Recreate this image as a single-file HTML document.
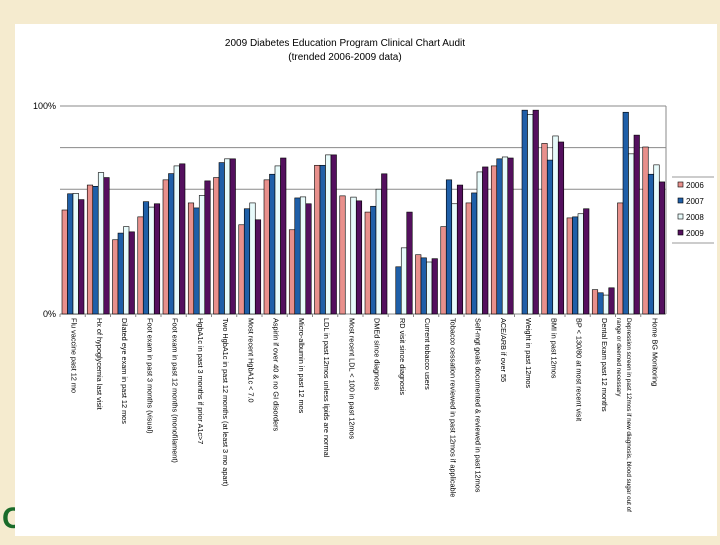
<!DOCTYPE html>
<html><head><meta charset="utf-8"><style>
body{margin:0;width:720px;height:540px;overflow:hidden;background:#f5ebcf;font-family:"Liberation Sans",sans-serif}
</style></head><body>
<svg width="720" height="540">
<rect x="0" y="0" width="720" height="540" fill="#f5ebcf"/>
<text x="2" y="528" font-size="30" font-weight="bold" fill="#1a6b2a">C</text>
<rect x="15" y="24" width="702" height="512" fill="#fff"/>
<text x="345" y="46" font-size="10" text-anchor="middle">2009 Diabetes Education Program Clinical Chart Audit</text>
<text x="345" y="60" font-size="10" text-anchor="middle">(trended 2006-2009 data)</text>
<g id="plot"></g>
<g id="legend"></g>
</svg>
<script>
const categories=["Flu vaccine past 12 mo","Hx of hypoglycemia last visit","Dilated eye exam in past 12 mos","Foot exam in past 3 months (visual)","Foot exam in past 12 months (monofilament)","HgbA1c in past 3 months if prior A1c>7","Two HgbA1c in past 12 months (at least 3 mo apart)","Most recent HgbA1c < 7.0","Aspirin if over 40 & no GI disorders","Micro-albumin in past 12 mos","LDL in past 12mos unless lipids are normal","Most recent LDL < 100 in past 12mos","DMEd since diagnosis","RD visit since diagnosis","Current tobacco users","Tobacco cessation reviewed in past 12mos if applicable","Self-mgt goals documented & reviewed in past 12mos","ACE/ARB if over 55","Weight in past 12mos","BMI in past 12mos","BP < 130/80 at most recent visit","Dental Exam past 12 months","Depression screen in past 12mos if new diagnosis, blood sugar out of|range or deemed necessary","Home BG Monitoring"];
const s2006=[50,62,35.7,46.7,64.5,53.4,65.6,42.9,64.5,40.5,71.5,56.8,49,0,28.5,42,53.4,71.2,0,82,46.2,11.7,53.4,80.3];
const s2007=[57.8,61.4,38.9,54,67.5,51,72.8,50.6,67.2,55.8,71.5,0,51.8,22.7,27,64.5,58.2,74.6,98,74,46.7,10.2,97,67.2];
const s2008=[58,68,42,51.4,71.2,57,74.6,53.4,71.2,56.3,76.5,56.2,60,31.8,25,53,68.3,75.5,96,85.6,48.2,9.1,77,71.7];
const s2009=[55,65.6,39.5,53,72.2,64,74.6,45.3,75,53,76.5,54.4,67.4,49,26.6,62,70.7,75,98,82.7,50.6,12.6,86,63.5];
const seriesNames=["2006","2007","2008","2009"];
const yTicks=[0,60,80,100];
const yLabels={0:"0%",100:"100%"};
const series=[s2006,s2007,s2008,s2009];
const colors=["#e8908c","#1f5fa8","#e8fbfb","#54105e"];
const NS="http://www.w3.org/2000/svg";
const X0=60,X1=666,Y0=314,Y100=106;
const bw=(X1-X0)/categories.length;
const y=v=>Y0-(v/100)*(Y0-Y100);
const x=i=>X0+i*bw;
const plot=document.getElementById('plot');
function mk(t,a,p){const e=document.createElementNS(NS,t);for(const k in a)e.setAttribute(k,a[k]);(p||plot).appendChild(e);return e;}
yTicks.forEach(t=>{
 const l=mk('line',{x1:X0,x2:X1,y1:y(t),y2:y(t),stroke:t===0?'#888':'#8a8a8a','stroke-width':1});
 
 
 if(yLabels[t]!==undefined){const tx=mk('text',{x:X0-4,y:y(t)+3,'font-size':9,'text-anchor':'end'});tx.textContent=yLabels[t];
 
 }
});
const rb=mk('line',{x1:X1,x2:X1,y1:Y100,y2:Y0,stroke:'#8a8a8a'});


const barW=5.5;
categories.forEach((c,i)=>{
 const gx=x(i)+2;
 series.forEach((s,k)=>{
  const v=s[i]; if(!v) return;
  const r=mk('rect',{x:gx+k*barW,y:y(v),width:barW,height:Y0-y(v),fill:colors[k],stroke:'#000','stroke-width':0.6});
  
  
 });
 const tk=mk('line',{x1:x(i),x2:x(i),y1:Y0,y2:Y0+3,stroke:'#888'});
 
 
 const parts=c.split('|');
 const fs=parts.length>1?6.3:7.3;
 parts.forEach((p,j)=>{
  const cx=x(i)+bw/2-1-j*10;
  const t=mk('text',{x:0,y:0,'font-size':fs,transform:`translate(${cx},318) rotate(90)`});
  t.textContent=p;
  
  
 });
});
const lg=document.getElementById('legend');
mk('line',{x1:672,x2:714,y1:177,y2:177,stroke:'#999'},lg);
mk('line',{x1:672,x2:714,y1:243,y2:243,stroke:'#999'},lg);
seriesNames.forEach((n,k)=>{
 const yy=186+k*16;
 const r=mk('rect',{x:678,y:yy-4,width:5,height:5,fill:colors[k],stroke:'#000','stroke-width':0.6},lg);
 
 
 const t=mk('text',{x:686,y:yy+2,'font-size':8},lg);
 t.textContent=n;
 
 
});
</script>
</body></html>
